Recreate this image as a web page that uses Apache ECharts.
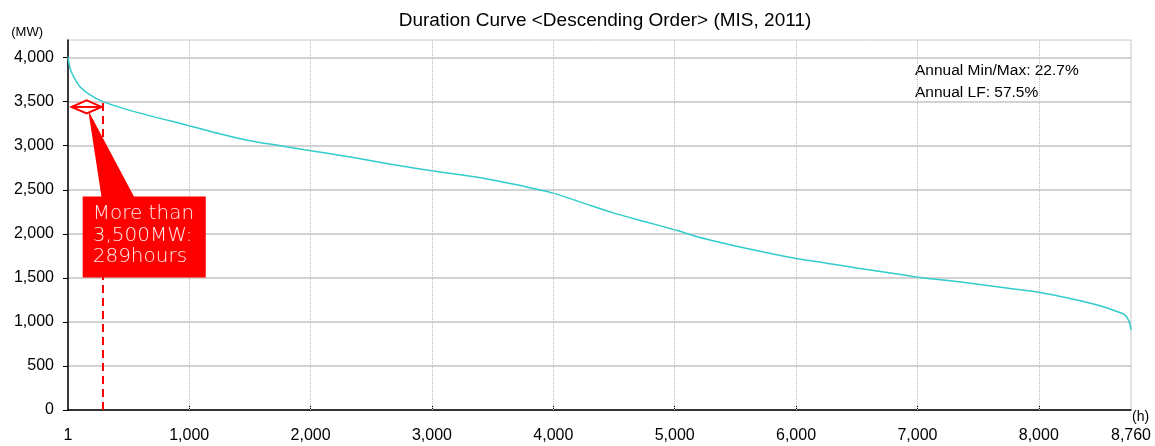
<!DOCTYPE html>
<html>
<head>
<meta charset="utf-8">
<title>Duration Curve (MIS, 2011)</title>
<script src="https://cdn.jsdelivr.net/npm/echarts@6/dist/echarts.min.js"></script>
<style>
  html, body { margin: 0; padding: 0; background: #fff; }
  #chart { width: 1155px; height: 446px; }
</style>
</head>
<body>
<div id="chart"></div>
<script>
// Hourly load sorted in descending order (hour rank -> MW)
const hours = [1, 10, 20, 45, 100, 180, 289, 540, 1000,
  1250, 1500, 1750, 2000, 2250, 2500, 2750, 3000,
  3250, 3500, 3750, 4000, 4250, 4500, 4750, 5000,
  5250, 5500, 5750, 6000, 6250, 6500, 6750, 7000,
  7250, 7500, 7750, 8000, 8250, 8500, 8650, 8710,
  8745, 8760];
const loadMW = [4010, 3930, 3870, 3790, 3670, 3580, 3500, 3390, 3227,
  3136, 3057, 3000, 2943, 2890, 2830, 2769, 2716,
  2667, 2612, 2542, 2462, 2348, 2235, 2140, 2045,
  1943, 1862, 1788, 1720, 1667, 1612, 1561, 1508,
  1470, 1428, 1383, 1337, 1269, 1186, 1115, 1080,
  1003, 909];

const xTickLabels = [1, 1000, 2000, 3000, 4000, 5000, 6000, 7000, 8000, 8760];
const xGridValues = [1000, 2000, 3000, 4000, 5000, 6000, 7000, 8000];
const yTickValues = [0, 500, 1000, 1500, 2000, 2500, 3000, 3500, 4000];

// Threshold annotation: hours above 3,500 MW
const thresholdMW = 3500;
const hoursAbove = 289;
const calloutLines = ['More than', '3,500MW:', '289hours'];
const statsLines = ['Annual Min/Max: 22.7%', 'Annual LF: 57.5%'];

const fmt = v => v.toLocaleString('en-US');

const chart = echarts.init(document.getElementById('chart'));

chart.setOption({
  animation: false,
  backgroundColor: '#fff',
  textStyle: { fontFamily: 'Liberation Sans, Arial, sans-serif' },
  title: {
    text: 'Duration Curve <Descending Order> (MIS, 2011)',
    left: 600,
    textAlign: 'center',
    top: 6,
    textStyle: { fontSize: 19, fontWeight: 'normal', color: '#000' }
  },
  grid: {
    left: 68, right: 24, top: 40, bottom: 36,
    show: true, borderColor: '#c8c8c8', borderWidth: 1, backgroundColor: 'transparent'
  },
  xAxis: {
    type: 'value',
    min: 1,
    max: 8760,
    name: '(h)',
    nameLocation: 'end',
    nameGap: 1,
    nameTextStyle: { fontSize: 14, color: '#000', verticalAlign: 'top', align: 'left' },
    axisLine: { show: true, lineStyle: { color: '#000', width: 1.5 } },
    axisTick: { show: true, inside: true, length: 5, customValues: xGridValues, lineStyle: { color: '#000' } },
    axisLabel: {
      customValues: xTickLabels,
      fontSize: 16, color: '#000', margin: 18,
      formatter: v => fmt(v)
    },
    splitLine: { show: false }
  },
  yAxis: {
    type: 'value',
    min: 0,
    max: 4200,
    interval: 500,
    name: '(MW)',
    nameLocation: 'end',
    nameGap: 1,
    nameTextStyle: { fontSize: 13, color: '#000', align: 'right', padding: [0, 25, 0, 0] },
    axisLine: { show: true, lineStyle: { color: '#000', width: 1.5 } },
    axisTick: { show: true, inside: false, length: 5, customValues: yTickValues, lineStyle: { color: '#000' } },
    axisLabel: {
      customValues: yTickValues,
      fontSize: 16, color: '#000', margin: 14,
      formatter: v => fmt(v)
    },
    splitLine: { show: true, lineStyle: { color: '#c4c4c4', width: 1.5 } }
  },
  graphic: [{
    type: 'text',
    left: 915,
    top: 60,
    style: {
      text: statsLines.join('\n'),
      fontSize: 15.5,
      lineHeight: 22,
      fill: '#000',
      fontFamily: 'Liberation Sans, Arial, sans-serif'
    }
  }],
  series: [
    {
      type: 'line',
      data: hours.map((h, i) => [h, loadMW[i]]),
      showSymbol: false,
      smooth: 0.25,
      lineStyle: { color: '#33cccc', width: 1.5 },
      itemStyle: { color: '#33cccc' },
      z: 3,
      markLine: {
        silent: true,
        symbol: 'none',
        label: { show: false },
        animation: false,
        data: xGridValues.map(v => ({
          xAxis: v,
          lineStyle: { type: 'dotted', color: '#bdbdbd', width: 1 }
        })).concat([[
          { coord: [hoursAbove, 0], lineStyle: { type: [8, 5], color: '#ff0000', width: 2 } },
          { coord: [hoursAbove, thresholdMW] }
        ]])
      }
    },
    {
      // Callout: range marker, pointer and label box
      type: 'custom',
      silent: true,
      z: 10,
      data: [[hoursAbove, thresholdMW]],
      renderItem: function (params, api) {
        const rangeY = api.value(1) - 60;
        const left = api.coord([31, rangeY]);
        const right = api.coord([278, rangeY]);
        const midX = (left[0] + right[0]) / 2;
        const cy = left[1];
        const hh = 6.5;
        const tip = api.coord([168, 3400]);
        const boxTL = api.coord([122, 2424]);
        const boxBR = api.coord([1136, 1503]);
        const wedgeL = api.coord([279, 2424]);
        const wedgeR = api.coord([553, 2424]);
        return {
          type: 'group',
          children: [
            {
              type: 'polygon',
              shape: { points: [tip, [wedgeL[0], wedgeL[1] + 2], [wedgeR[0], wedgeR[1] + 2]] },
              style: { fill: '#ff0000' }
            },
            {
              type: 'rect',
              shape: { x: boxTL[0], y: boxTL[1], width: boxBR[0] - boxTL[0], height: boxBR[1] - boxTL[1] },
              style: { fill: '#ff0000' }
            },
            {
              type: 'text',
              x: boxTL[0] + 10,
              y: boxTL[1] + 7,
              style: {
                text: calloutLines.join('\n'),
                fontSize: 20,
                lineHeight: 21.5,
                fontWeight: 'lighter',
                fontFamily: 'DejaVu Sans, sans-serif',
                fill: 'rgba(255,255,255,0.92)'
              }
            },
            {
              type: 'polygon',
              shape: { points: [[left[0], cy], [midX, cy - hh], [right[0], cy], [midX, cy + hh]] },
              style: { fill: '#fff', stroke: '#ff0000', lineWidth: 2 }
            },
            {
              type: 'line',
              shape: { x1: left[0], y1: cy, x2: right[0], y2: cy },
              style: { stroke: '#ff0000', lineWidth: 2 }
            }
          ]
        };
      }
    }
  ]
});
</script>
</body>
</html>
